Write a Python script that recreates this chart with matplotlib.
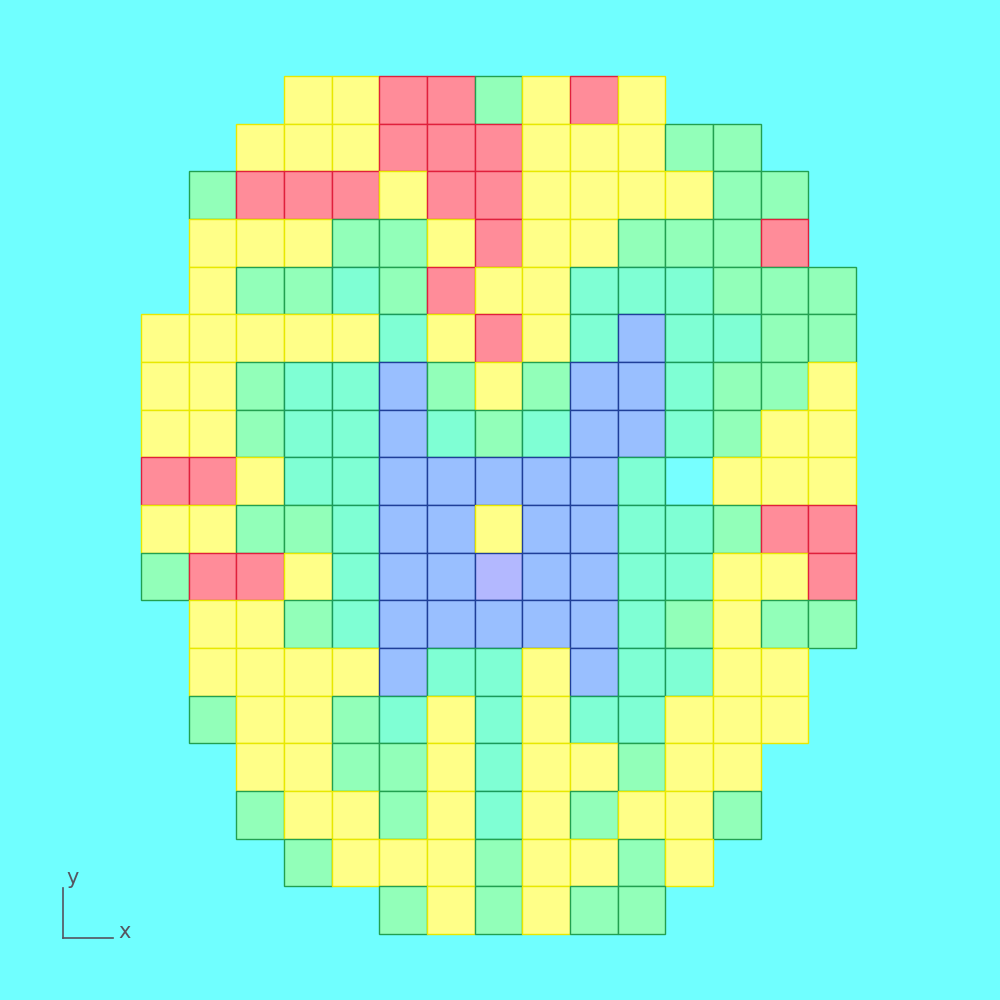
import matplotlib
matplotlib.use("Agg")
import matplotlib.pyplot as plt
from matplotlib.patches import Rectangle
from matplotlib.lines import Line2D

# wafer map rows, top to bottom; '.' = no die
# Y yellow, R red, G green, T aquamarine, B blue, L lavender, C cyan
rows = [
    "...YYRRGYRY....",
    "..YYYRRRYYYGG..",
    ".GRRRYRRYYYYGG.",
    ".YYYGGYRYYGGGR.",
    ".YGGTGRYYTTTGGG",
    "YYYYYTYRYTBTTGG",
    "YYGTTBGYGBBTGGY",
    "YYGTTBTGTBBTGYY",
    "RRYTTBBBBBTCYYY",
    "YYGGTBBYBBTTGRR",
    "GRRYTBBLBBTTYYR",
    ".YYGTBBBBBTGYGG",
    ".YYYYBTTYBTTYY.",
    ".GYYGTYTYTTYYY.",
    "..YYGGYTYYGYY..",
    "..GYYGYTYGYYG..",
    "...GYYYGYYGY...",
    ".....GYGYGG....",
]

fills = {"Y": "#FFFF88", "R": "#FF8C99", "G": "#92FFB9", "T": "#7FFFD4",
         "B": "#99BFFF", "L": "#B3B8FF", "C": "#77FFFF"}
edges = {"Y": "#E8E800", "R": "#E0203C", "G": "#22A050", "T": "#1A9A5A",
         "B": "#1F3F99", "L": "#1F3F99", "C": "#1A9A5A"}

bg = "#70FFFF"
fig = plt.figure(figsize=(10, 10), dpi=100, facecolor=bg)
ax = fig.add_axes([0, 0, 1, 1])
ax.set_facecolor(bg)
ax.axis("off")

cell = 47.67
ax.set_xlim(-141 / cell, (1000 - 141) / cell)
ax.set_ylim((1000 - 76) / cell, -76 / cell)

for r, row in enumerate(rows):
    for c, k in enumerate(row):
        if k == ".":
            continue
        ax.add_patch(Rectangle((c, r), 1, 1, facecolor=fills[k],
                               edgecolor=edges[k], linewidth=1.0))

# little axis indicator in the corner
gray = "#555560"
fig.add_artist(Line2D([0.063, 0.063], [0.112, 0.062], color=gray, lw=1.2))
fig.add_artist(Line2D([0.063, 0.113], [0.062, 0.062], color=gray, lw=1.2))
fig.text(0.066, 0.112, "y", color=gray, fontsize=15, ha="left", va="bottom")
fig.text(0.118, 0.068, "x", color=gray, fontsize=15, ha="left", va="center")

fig.savefig("out.png", facecolor=bg)
